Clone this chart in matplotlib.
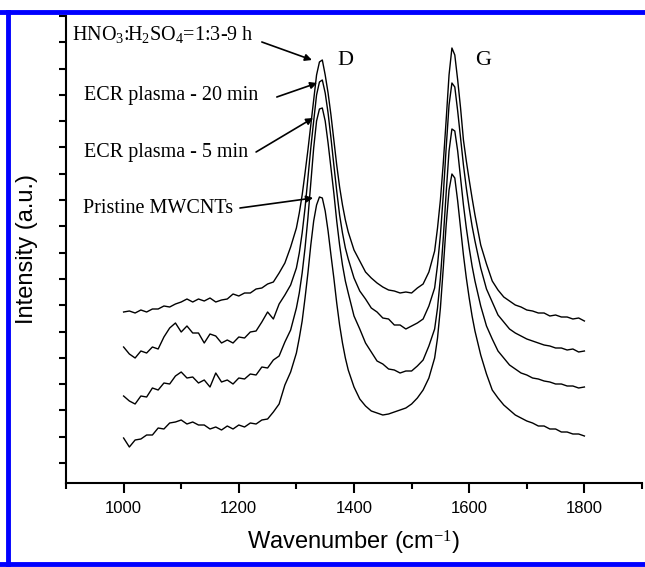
import numpy as np
import matplotlib.pyplot as plt
from matplotlib.lines import Line2D

plt.rcParams['mathtext.fontset'] = 'custom'
plt.rcParams['mathtext.rm'] = 'Liberation Serif'
plt.rcParams['mathtext.it'] = 'Liberation Serif'

# wavenumber grid (cm-1), finer around the D and G bands
wavenumber = np.concatenate([np.arange(1000, 1301, 10), np.arange(1305, 1386, 5),
                             np.arange(1390, 1541, 10), np.arange(1545, 1611, 5),
                             np.arange(1620, 1801, 10)])

# stacked spectra (a.u.)
acid_9h = [171, 172, 170, 173, 171, 174, 174, 177, 176, 179, 181, 184, 181, 184, 182, 185, 181, 183, 184, 189,
           187, 190, 190, 194, 195, 199, 201, 210, 220, 236, 255,
           270, 288, 310, 333, 358, 383, 408, 421, 423, 408, 390, 368, 343, 318, 296, 278, 263,
           251, 233, 222, 211, 205, 200, 196, 193, 192, 190, 191, 190, 195, 199, 211, 232,
           255, 283, 320, 363, 408, 435, 428, 403, 375, 343, 322, 303, 285, 268,
           238, 219, 202, 193, 186, 182, 178, 176, 173, 172, 170, 170, 167, 168, 166, 166, 164, 165, 162]
ecr_20min = [136, 129, 125, 132, 130, 136, 134, 146, 155, 160, 151, 157, 150, 150, 140, 149, 147, 140, 143, 140,
             146, 145, 151, 152, 161, 171, 164, 179, 188, 198, 215,
             230, 250, 275, 305, 335, 362, 388, 401, 403, 390, 370, 345, 318, 292, 268, 250, 235,
             224, 205, 192, 184, 175, 171, 165, 164, 158, 158, 154, 157, 160, 164, 177, 195,
             218, 248, 288, 335, 378, 400, 396, 372, 345, 318, 295, 275, 257, 242,
             215, 194, 181, 168, 161, 154, 150, 147, 144, 142, 140, 138, 137, 135, 135, 133, 134, 131, 132]
ecr_5min = [87, 82, 79, 87, 86, 95, 93, 100, 99, 107, 111, 105, 106, 100, 103, 96, 110, 101, 103, 99,
            105, 104, 109, 108, 116, 115, 123, 127, 141, 153, 175,
            190, 210, 235, 265, 300, 335, 362, 374, 375, 362, 340, 315, 290, 262, 238, 218, 202,
            190, 167, 154, 140, 131, 122, 119, 114, 113, 110, 112, 112, 117, 123, 137, 154,
            175, 205, 245, 290, 332, 354, 352, 332, 305, 278, 255, 235, 217, 202,
            177, 157, 144, 132, 125, 118, 114, 110, 108, 105, 104, 102, 101, 99, 99, 97, 97, 95, 96]
pristine = [45, 36, 43, 44, 48, 48, 55, 54, 60, 61, 63, 59, 61, 58, 58, 54, 56, 53, 57, 54,
            58, 56, 60, 59, 63, 64, 71, 79, 98, 111, 130,
            145, 162, 185, 210, 238, 262, 278, 286, 285, 272, 252, 228, 205, 180, 158, 140, 125,
            113, 96, 84, 77, 72, 70, 68, 69, 71, 73, 75, 79, 85, 93, 105, 125,
            145, 175, 215, 258, 293, 309, 305, 282, 255, 228, 205, 185, 167, 152,
            128, 109, 93, 85, 78, 73, 68, 65, 62, 60, 57, 57, 54, 54, 51, 51, 49, 49, 47]

spectra = [acid_9h, ecr_20min, ecr_5min, pristine]
labels = ['HNO$_3$:H$_2$SO$_4$=1:3-9 h', 'ECR plasma - 20 min', 'ECR plasma - 5 min', 'Pristine MWCNTs']
label_pos = [(911, 443), (932, 383), (932, 326), (929, 270)]
arrow_tail = [(1240, 441), (1266, 386), (1230, 331), (1202, 275)]
arrow_head = [(1327, 423), (1336, 400), (1329, 365), (1329, 285)]

fig = plt.figure(figsize=(6.45, 5.67), dpi=100)
ax = fig.add_axes([66 / 645, 84 / 567, 576 / 645, 467 / 567])

for s in spectra:
    ax.plot(wavenumber, s, color='black', lw=1.0)

for lab, pos, tail, head in zip(labels, label_pos, arrow_tail, arrow_head):
    ax.text(pos[0], pos[1], lab, fontsize=14.5, family='Liberation Serif', va='baseline', ha='left')
    ax.annotate('', xy=head, xytext=tail,
                arrowprops=dict(arrowstyle='-|>', color='black', lw=1.2, mutation_scale=10,
                                shrinkA=0, shrinkB=0))

ax.text(1372, 418, 'D', fontsize=16, family='Liberation Serif', va='baseline')
ax.text(1610, 418, 'G', fontsize=16, family='Liberation Serif', va='baseline')

ax.set_xlim(900, 1900)
ax.set_ylim(0, 467)
ax.set_xticks([1000, 1200, 1400, 1600, 1800])
ax.set_xticks(np.arange(900, 1901, 100), minor=True)
ax.set_yticks(np.linspace(20, 467, 18))
ax.set_yticklabels([])
ax.tick_params(axis='x', which='major', length=7, width=1.5, direction='out',
               labelsize=12, labelfontfamily='Liberation Sans', pad=6)
ax.tick_params(axis='x', which='minor', length=4, width=1.5, direction='out')
ax.tick_params(axis='y', length=5, width=1.5, direction='out')
for side in ['top', 'right']:
    ax.spines[side].set_visible(False)
for side in ['left', 'bottom']:
    ax.spines[side].set_linewidth(1.5)

ax.set_xlabel('Wavenumber (cm$^{-1}$)', fontsize=17, family='Liberation Sans', labelpad=9)
ax.set_ylabel('Intensity (a.u.)', fontsize=17, family='Liberation Sans', labelpad=12)

# blue frame around the figure
for xs, ys in [([0, 1], [1 - 12 / 567] * 2), ([8 / 645] * 2, [0, 1 - 12 / 567]), ([0, 1], [3 / 567] * 2)]:
    fig.add_artist(Line2D(xs, ys, color='#0000ff', lw=3.5, transform=fig.transFigure))

plt.savefig('out.png', dpi=100)
